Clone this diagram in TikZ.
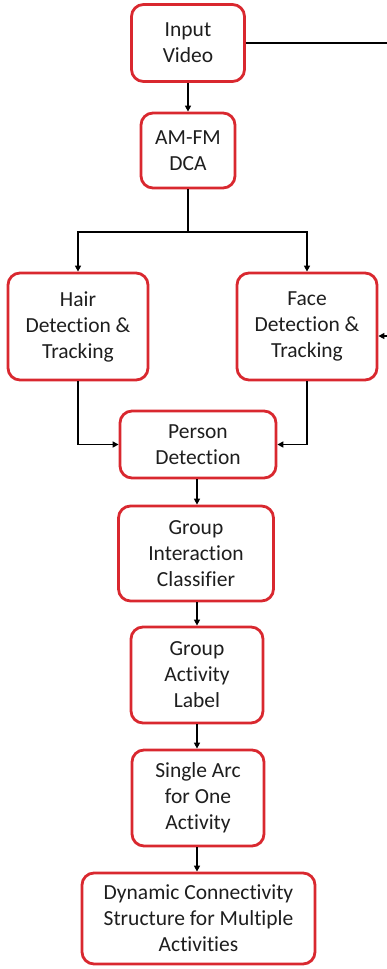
\documentclass[tikz,border=0pt]{standalone}
\usepackage{fontspec}
\setmainfont{Carlito}[Ligatures=NoCommon]
\usetikzlibrary{arrows.meta,positioning}
\definecolor{boxred}{HTML}{D9282F}
\definecolor{txt}{HTML}{1E1E1E}
\tikzset{
  blk/.style={draw=boxred, line width=2.8pt, rounded corners=12pt, fill=white,
    align=center, inner sep=0pt, text=txt,
    font=\fontsize{21.5}{26}\selectfont},
  conn/.style={line width=1.8pt, black},
  arr/.style={conn, -{Triangle[length=6pt,width=6pt]}}
}
\begin{document}
\begin{tikzpicture}[x=1pt,y=-1pt]
\useasboundingbox (0,0) rectangle (387,969);
\clip (0,0) rectangle (387,969);
\node[blk, minimum width=113pt, minimum height=77pt] (in) at (188,43) {Input\\Video};
\node[blk, minimum width=94pt, minimum height=75pt] (am) at (188,150.5) {AM-FM\\DCA};
\node[blk, minimum width=140pt, minimum height=107pt] (hair) at (78,326.5) {Hair\\Detection \&\\Tracking};
\node[blk, minimum width=140pt, minimum height=107pt] (face) at (307,326.5) {Face\\Detection \&\\Tracking};
\node[blk, minimum width=156pt, minimum height=67pt] (person) at (198,444.5) {Person\\Detection};
\node[blk, minimum width=155pt, minimum height=95pt] (gic) at (196,553.5) {Group\\Interaction\\Classifier};
\node[blk, minimum width=132pt, minimum height=96pt] (gal) at (197,675) {Group\\Activity\\Label};
\node[blk, minimum width=132pt, minimum height=96pt] (arc) at (198,798) {Single Arc\\for One\\Activity};
\node[blk, minimum width=233pt, minimum height=91pt] (dyn) at (198.5,918.5) {Dynamic Connectivity\\Structure for Multiple\\Activities};
\coordinate (split) at (188,232);
\coordinate (rt) at (395,43);
\coordinate (rb) at (395,336);
\coordinate (ax) at (197,0);
\draw[arr] (in.south) -- (am.north);
\draw[conn] (am.south) -- (split);
\draw[arr] (split) -| (hair.north);
\draw[arr] (split) -| (face.north);
\draw[conn] (in.east) -- (rt) -- (rb);
\draw[arr] (rb) -- (rb -| face.east);
\draw[arr] (hair.south) |- (person.west);
\draw[arr] (face.south) |- (person.east);
\draw[arr] (person.south -| ax) -- (gic.north -| ax);
\draw[arr] (gic.south -| ax) -- (gal.north -| ax);
\draw[arr] (gal.south -| ax) -- (arc.north -| ax);
\draw[arr] (arc.south -| ax) -- (dyn.north -| ax);
\end{tikzpicture}
\end{document}
